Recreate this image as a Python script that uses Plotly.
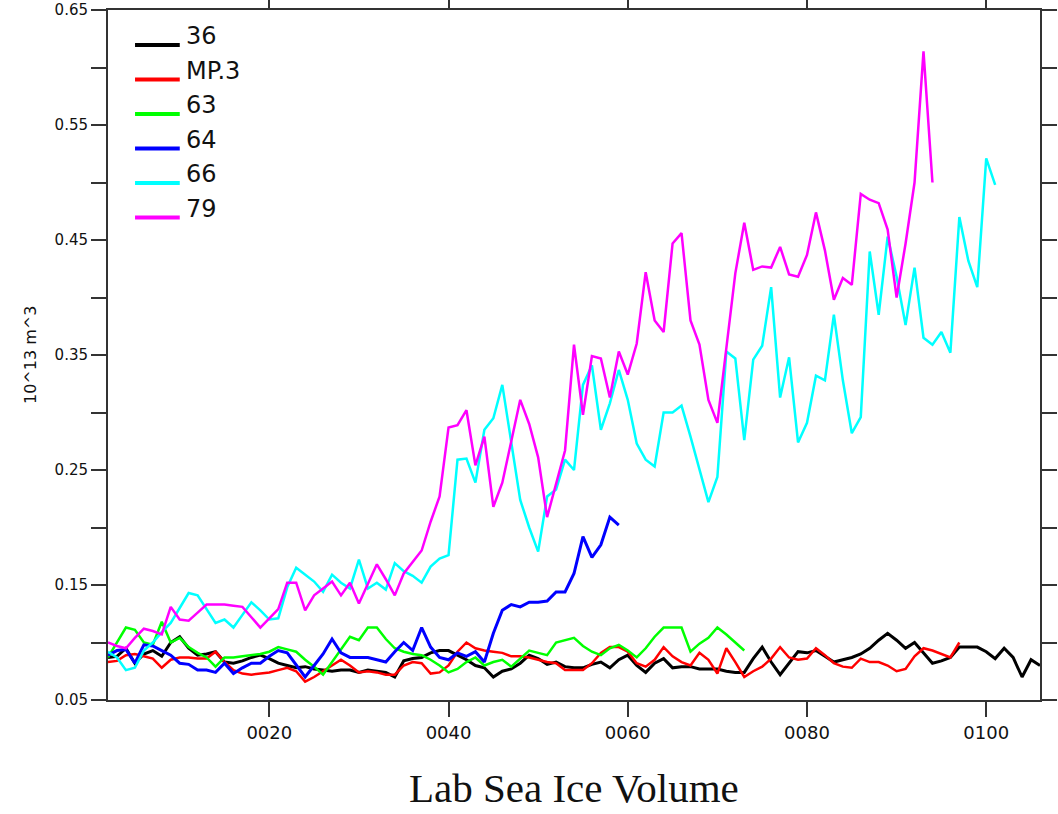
import plotly.graph_objects as go

# ---------------- data ----------------
start_year = 2
black_36 = [0.087, 0.088, 0.095, 0.082, 0.090, 0.093, 0.088, 0.100, 0.105, 0.095,
            0.089, 0.090, 0.092, 0.083, 0.082, 0.084, 0.087, 0.089, 0.086, 0.082,
            0.080, 0.078, 0.079, 0.077, 0.076, 0.075, 0.076, 0.076, 0.074, 0.076,
            0.075, 0.074, 0.070, 0.084, 0.086, 0.087, 0.091, 0.093, 0.093, 0.089,
            0.085, 0.080, 0.078, 0.070, 0.075, 0.077, 0.082, 0.089, 0.086, 0.081,
            0.083, 0.079, 0.078, 0.078, 0.081, 0.083, 0.078, 0.085, 0.089, 0.080,
            0.074, 0.082, 0.086, 0.078, 0.079, 0.079, 0.077, 0.077, 0.077, 0.075,
            0.074, 0.074, 0.086, 0.096, 0.083, 0.072, 0.082, 0.092, 0.091, 0.093,
            0.088, 0.083, 0.085, 0.087, 0.090, 0.095, 0.102, 0.108, 0.102, 0.095,
            0.100, 0.091, 0.082, 0.084, 0.087, 0.096, 0.096, 0.096, 0.092, 0.086,
            0.095, 0.087, 0.070, 0.085, 0.080]

red_mp3 = [0.083, 0.084, 0.089, 0.090, 0.088, 0.086, 0.078, 0.085, 0.087, 0.087,
           0.086, 0.086, 0.092, 0.083, 0.076, 0.073, 0.072, 0.073, 0.074, 0.076,
           0.078, 0.075, 0.066, 0.070, 0.075, 0.080, 0.085, 0.080, 0.074, 0.075,
           0.074, 0.072, 0.072, 0.080, 0.083, 0.082, 0.073, 0.074, 0.080, 0.092,
           0.100, 0.095, 0.093, 0.092, 0.091, 0.088, 0.088, 0.087, 0.085, 0.083,
           0.082, 0.076, 0.076, 0.076, 0.082, 0.091, 0.096, 0.096, 0.092, 0.082,
           0.079, 0.085, 0.096, 0.088, 0.083, 0.080, 0.091, 0.085, 0.073, 0.095,
           0.083, 0.070, 0.075, 0.079, 0.086, 0.096, 0.087, 0.085, 0.086, 0.095,
           0.089, 0.082, 0.079, 0.078, 0.086, 0.083, 0.083, 0.080, 0.075, 0.077,
           0.088, 0.095, 0.093, 0.090, 0.087, 0.100]

green_63 = [0.087, 0.100, 0.113, 0.111, 0.100, 0.098, 0.118, 0.100, 0.104, 0.096,
            0.091, 0.087, 0.079, 0.087, 0.087, 0.088, 0.089, 0.090, 0.092, 0.096,
            0.094, 0.092, 0.085, 0.079, 0.072, 0.083, 0.095, 0.105, 0.102, 0.113,
            0.113, 0.103, 0.095, 0.092, 0.090, 0.089, 0.085, 0.080, 0.074, 0.077,
            0.083, 0.087, 0.080, 0.083, 0.085, 0.079, 0.086, 0.093, 0.091, 0.089,
            0.100, 0.102, 0.104, 0.097, 0.092, 0.089, 0.095, 0.098, 0.093, 0.087,
            0.095, 0.105, 0.113, 0.113, 0.113, 0.092, 0.099, 0.104, 0.113, 0.107,
            0.100, 0.093]

blue_64 = [0.089, 0.093, 0.094, 0.082, 0.098, 0.097, 0.093, 0.089, 0.082, 0.081,
           0.076, 0.076, 0.074, 0.082, 0.073, 0.078, 0.082, 0.082, 0.088, 0.093,
           0.091, 0.080, 0.070, 0.080, 0.090, 0.103, 0.091, 0.087, 0.087, 0.087,
           0.085, 0.083, 0.092, 0.100, 0.093, 0.113, 0.096, 0.087, 0.085, 0.091,
           0.088, 0.092, 0.083, 0.108, 0.128, 0.133, 0.131, 0.135, 0.135, 0.136,
           0.144, 0.144, 0.160, 0.192, 0.174, 0.185, 0.209, 0.202]

cyan_66 = [0.092, 0.087, 0.076, 0.078, 0.093, 0.100, 0.109, 0.117, 0.130, 0.143,
           0.141, 0.129, 0.117, 0.120, 0.113, 0.124, 0.135, 0.128, 0.120, 0.121,
           0.148, 0.165, 0.159, 0.153, 0.144, 0.159, 0.152, 0.147, 0.172, 0.147,
           0.152, 0.146, 0.169, 0.162, 0.158, 0.152, 0.166, 0.173, 0.176, 0.259,
           0.260, 0.239, 0.285, 0.295, 0.324, 0.273, 0.224, 0.200, 0.179, 0.227,
           0.233, 0.259, 0.250, 0.324, 0.341, 0.285, 0.308, 0.337, 0.311, 0.273,
           0.259, 0.253, 0.300, 0.300, 0.306, 0.279, 0.250, 0.222, 0.244, 0.353,
           0.347, 0.276, 0.346, 0.358, 0.409, 0.313, 0.348, 0.274, 0.291, 0.332,
           0.328, 0.385, 0.328, 0.282, 0.296, 0.440, 0.385, 0.453, 0.418, 0.376,
           0.426, 0.365, 0.359, 0.370, 0.352, 0.470, 0.432, 0.409, 0.521, 0.498]

magenta_79 = [0.100, 0.097, 0.095, 0.104, 0.112, 0.110, 0.107, 0.131, 0.120, 0.119,
              0.126, 0.133, 0.133, 0.133, 0.132, 0.131, 0.122, 0.113, 0.121, 0.129,
              0.152, 0.152, 0.128, 0.141, 0.147, 0.153, 0.141, 0.152, 0.134, 0.151,
              0.168, 0.155, 0.141, 0.160, 0.170, 0.180, 0.205, 0.227, 0.287, 0.289,
              0.302, 0.254, 0.279, 0.218, 0.239, 0.275, 0.311, 0.290, 0.261, 0.209,
              0.238, 0.267, 0.359, 0.298, 0.349, 0.347, 0.313, 0.353, 0.333, 0.360,
              0.422, 0.380, 0.370, 0.447, 0.456, 0.380, 0.359, 0.311, 0.291, 0.354,
              0.421, 0.465, 0.424, 0.427, 0.426, 0.444, 0.420, 0.418, 0.437, 0.474,
              0.441, 0.398, 0.417, 0.411, 0.490, 0.485, 0.482, 0.459, 0.400, 0.447,
              0.500, 0.614, 0.500]

series_names = ["36", "MP.3", "63", "64", "66", "79"]
series_values = [black_36, red_mp3, green_63, blue_64, cyan_66, magenta_79]
series_colors = ["#000000", "#ff0000", "#00ff00", "#0000ff", "#00ffff", "#ff00ff"]
series_widths = [3, 2.5, 2.5, 3, 2.5, 2.5]

x_tick_vals = [20, 40, 60, 80, 100]
x_tick_text = ["0020", "0040", "0060", "0080", "0100"]
y_tick_vals = [0.05, 0.10, 0.15, 0.20, 0.25, 0.30, 0.35, 0.40, 0.45, 0.50, 0.55, 0.60, 0.65]
y_tick_text = ["0.05", "", "0.15", "", "0.25", "", "0.35", "", "0.45", "", "0.55", "", "0.65"]

x_title = "Lab Sea Ice Volume"
y_title = "10^13 m^3"

# ---------------- figure ----------------
fig = go.Figure()
for name, vals, col, w in zip(series_names, series_values, series_colors, series_widths):
    years = list(range(start_year, start_year + len(vals)))
    fig.add_trace(go.Scatter(x=years, y=vals, mode="lines", name=name,
                             line=dict(color=col, width=w)))

axis_col = "#333333"
sans = "DejaVu Sans, Liberation Sans, sans-serif"
fig.update_layout(
    width=1058, height=814,
    margin=dict(l=108, r=18, t=10, b=114, autoexpand=False),
    plot_bgcolor="white", paper_bgcolor="white",
    showlegend=False,
    font=dict(family=sans, color="#111111"),
)
fig.update_xaxes(range=[2, 106], tickvals=x_tick_vals, ticktext=x_tick_text,
                 ticks="outside", ticklen=15, tickwidth=2, tickcolor=axis_col,
                 showline=True, linecolor=axis_col, linewidth=2, mirror="ticks",
                 showgrid=False, zeroline=False, automargin=False,
                 tickfont=dict(family=sans, size=18))
fig.update_yaxes(range=[0.05, 0.65], tickvals=y_tick_vals, ticktext=y_tick_text,
                 ticks="outside", ticklen=15, tickwidth=2, tickcolor=axis_col,
                 showline=True, linecolor=axis_col, linewidth=2, mirror="ticks",
                 showgrid=False, zeroline=False, automargin=False,
                 tickfont=dict(family=sans, size=15))

# axis titles
fig.add_annotation(text=x_title, xref="paper", yref="paper", x=0.5, y=-0.127,
                   xanchor="center", yanchor="middle", showarrow=False, borderpad=0,
                   font=dict(family="Liberation Serif, serif", size=41, color="#111111"))
fig.add_annotation(text=y_title, xref="paper", yref="paper", x=-0.0837, y=0.5,
                   xanchor="center", yanchor="middle", showarrow=False, textangle=-90,
                   font=dict(family=sans, size=16, color="#111111"))

# manual legend (inside upper-left)
plot_h = 690.0
row_px = [45, 79.5, 114, 148.5, 183, 217.5]
for name, col, py in zip(series_names, series_colors, row_px):
    yl = 1 - (py - 10) / plot_h
    fig.add_shape(type="line", xref="paper", yref="paper", x0=0.029, x1=0.077,
                  y0=yl, y1=yl, line=dict(color=col, width=4))
    yt = 1 - (py - 9 - 10) / plot_h
    fig.add_annotation(text=name, xref="paper", yref="paper", x=0.0815, y=yt,
                       xanchor="left", yanchor="middle", showarrow=False,
                       font=dict(family=sans, size=24, color="#111111"))

fig.write_html("out.html")
